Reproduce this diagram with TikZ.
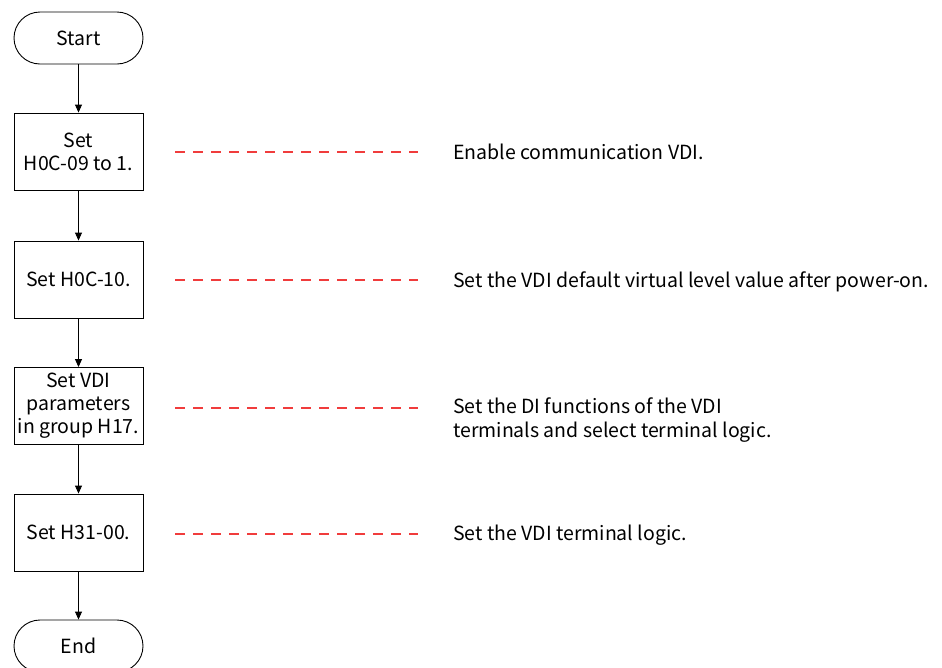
\documentclass[tikz,border=0pt]{standalone}
\usepackage{fontspec}
\setmainfont{Noto Sans CJK SC}
\usetikzlibrary{arrows.meta}
\definecolor{dashred}{RGB}{240,60,60}
\tikzset{
  stepbox/.style={draw=black, line width=0.9pt, minimum width=129pt, minimum height=77pt, align=center, inner sep=1pt, font=\fontsize{19.5pt}{23pt}\selectfont},
  termbox/.style={draw=black, line width=0.9pt, minimum width=129pt, minimum height=52pt, rounded corners=26pt, align=center, font=\fontsize{19.5pt}{23pt}\selectfont},
  note/.style={anchor=west, align=left, inner sep=0pt, font=\fontsize{19.5pt}{24pt}\selectfont},
  flow/.style={draw=black, line width=0.9pt, -{Triangle[length=8pt,width=7pt]}},
  guide/.style={draw=dashred, line width=1.2pt, dash pattern=on 10pt off 8pt}
}
\begin{document}
\begin{tikzpicture}[x=1pt,y=-1pt]
\clip (0,0) rectangle (942,667);
\fill[white] (0,0) rectangle (942,667);
\coordinate (d1a) at (175,152); \coordinate (d1b) at (418,152);
\coordinate (d2a) at (175,280); \coordinate (d2b) at (418,280);
\coordinate (d3a) at (175,408); \coordinate (d3b) at (418,408);
\coordinate (d4a) at (175,534); \coordinate (d4b) at (418,534);
\draw[guide] (d1a) -- (d1b);
\draw[guide] (d2a) -- (d2b);
\draw[guide] (d3a) -- (d3b);
\draw[guide] (d4a) -- (d4b);
\node[termbox] (start) at (78.5,38) {Start};
\node[stepbox] (s1) at (78.5,151.5) {Set\\H0C-09 to 1.};
\node[stepbox] (s2) at (78.5,279.5) {Set H0C-10.};
\node[stepbox] (s3) at (78.5,406) {Set VDI\\parameters\\in group H17.};
\node[stepbox] (s4) at (78.5,532.5) {Set H31-00.};
\node[termbox] (end) at (78.5,646) {End};
\draw[flow] (start) -- (s1);
\draw[flow] (s1) -- (s2);
\draw[flow] (s2) -- (s3);
\draw[flow] (s3) -- (s4);
\draw[flow] (s4) -- (end);
\node[note] (n1) at (453,152) {Enable communication VDI.};
\node[note] (n2) at (453,282) {Set the VDI default virtual level value after power-on.};
\node[note] (n3) at (453,420) {Set the DI functions of the VDI\\terminals and select terminal logic.};
\node[note] (n4) at (453,535) {Set the VDI terminal logic.};
\end{tikzpicture}
\end{document}
